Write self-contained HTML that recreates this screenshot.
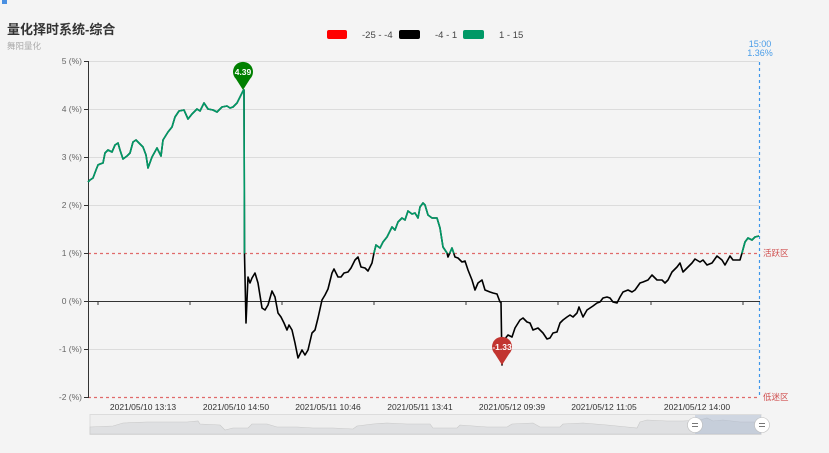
<!DOCTYPE html>
<html><head><meta charset="utf-8"><style>
html,body{margin:0;padding:0;background:#f4f4f4;}
svg{display:block;font-family:"Liberation Sans","Noto Sans CJK SC",sans-serif;}
</style></head><body>
<svg width="829" height="453" viewBox="0 0 829 453" xmlns="http://www.w3.org/2000/svg">
<rect x="0" y="0" width="829" height="453" fill="#f4f4f4"/>
<rect x="2" y="0" width="5" height="4" fill="#4a90e2"/>
<text x="7" y="34" font-size="13" font-weight="bold" fill="#333">量化择时系统-综合</text>
<text x="7" y="49" font-size="8.5" fill="#aaa">舞阳量化</text>
<!-- legend -->
<rect x="327" y="30" width="20" height="9" rx="2" fill="#ff0000"/>
<text x="362" y="38" font-size="9.5" fill="#444">-25 - -4</text>
<rect x="399" y="30" width="21" height="9" rx="2" fill="#000"/>
<text x="435" y="38" font-size="9.5" fill="#444">-4 - 1</text>
<rect x="463" y="30" width="21" height="9" rx="2" fill="#009966"/>
<text x="499" y="38" font-size="9.5" fill="#444">1 - 15</text>
<!-- top right label -->
<text x="760" y="47" font-size="9" fill="#4a9de8" text-anchor="middle">15:00</text>
<text x="760" y="56" font-size="9" fill="#4a9de8" text-anchor="middle">1.36%</text>
<!-- grid -->
<g stroke="#dcdcdc" stroke-width="1">
<line x1="88" y1="61.5" x2="759" y2="61.5"/>
<line x1="88" y1="109.5" x2="759" y2="109.5"/>
<line x1="88" y1="157.5" x2="759" y2="157.5"/>
<line x1="88" y1="205.5" x2="759" y2="205.5"/>
<line x1="88" y1="349.5" x2="759" y2="349.5"/>
</g>
<line x1="88" y1="253.5" x2="759" y2="253.5" stroke="#e06a6a" stroke-width="1.2" stroke-dasharray="3,3"/>
<line x1="88" y1="397.5" x2="759" y2="397.5" stroke="#e06a6a" stroke-width="1.2" stroke-dasharray="3,3"/>
<text x="763" y="256" font-size="8.5" fill="#d05050">活跃区</text>
<text x="763" y="400" font-size="8.5" fill="#d05050">低迷区</text>
<!-- y axis -->
<line x1="88.5" y1="61" x2="88.5" y2="398" stroke="#333"/>
<g stroke="#333">
<line x1="84" y1="61.5" x2="88" y2="61.5"/>
<line x1="84" y1="109.5" x2="88" y2="109.5"/>
<line x1="84" y1="157.5" x2="88" y2="157.5"/>
<line x1="84" y1="205.5" x2="88" y2="205.5"/>
<line x1="84" y1="253.5" x2="88" y2="253.5"/>
<line x1="84" y1="301.5" x2="88" y2="301.5"/>
<line x1="84" y1="349.5" x2="88" y2="349.5"/>
<line x1="84" y1="397.5" x2="88" y2="397.5"/>
</g>
<g font-size="8.5" fill="#666" text-anchor="end">
<text x="82" y="64">5 (%)</text>
<text x="82" y="112">4 (%)</text>
<text x="82" y="160">3 (%)</text>
<text x="82" y="208">2 (%)</text>
<text x="82" y="256">1 (%)</text>
<text x="82" y="304">0 (%)</text>
<text x="82" y="352">-1 (%)</text>
<text x="82" y="400">-2 (%)</text>
</g>
<!-- x axis at zero -->
<line x1="88" y1="301.5" x2="760" y2="301.5" stroke="#333"/>
<g stroke="#333">
<line x1="98" y1="301" x2="98" y2="305"/>
<line x1="190" y1="301" x2="190" y2="305"/>
<line x1="282" y1="301" x2="282" y2="305"/>
<line x1="374" y1="301" x2="374" y2="305"/>
<line x1="466" y1="301" x2="466" y2="305"/>
<line x1="558" y1="301" x2="558" y2="305"/>
<line x1="651" y1="301" x2="651" y2="305"/>
<line x1="743" y1="301" x2="743" y2="305"/>
</g>
<g font-size="8.5" fill="#333" text-anchor="middle">
<text x="143" y="410">2021/05/10 13:13</text>
<text x="236" y="410">2021/05/10 14:50</text>
<text x="328" y="410">2021/05/11 10:46</text>
<text x="420" y="410">2021/05/11 13:41</text>
<text x="512" y="410">2021/05/12 09:39</text>
<text x="604" y="410">2021/05/12 11:05</text>
<text x="697" y="410">2021/05/12 14:00</text>
</g>
<!-- dashed end line -->
<line x1="759.5" y1="62" x2="759.5" y2="398" stroke="#3d96ea" stroke-width="1.2" stroke-dasharray="3,3"/>
<defs>
<clipPath id="gc"><rect x="0" y="0" width="829" height="253.5"/></clipPath>
</defs>
<polyline fill="none" stroke="#000" stroke-width="1.6" stroke-linejoin="round" points="88,182 90,180 93,178 96,170 98,165 100,164 103,163 105,153 108,150 112,152 115,145 118,143 120,150 123,159 127,156 130,153 133,142 136,140 139,143 143,147 146,155 148,168 152,157 157,148 161,156 163,140 168,132 172,127 175,117 179,111 184,110 188,119 192,114 197,109 200,111 204,103 208,109 213,110 217,112 222,107 227,106 230,108 233,107 237,103 240,97 243,91 244,90 244.5,254 246,323 248,277 250,283 252,278 255,273 258,283 262,308 265,310 268,305 272,291 275,297 278,313 281,317 284,323 287,330 289,325 292,330 295,343 298,358 302,350 305,355 308,350 312,333 315,330 318,318 322,300 325,295 328,289 332,273 334,269 338,277 341,277 344,273 348,272 351,268 355,260 358,257 361,267 365,268 368,271 372,263 374,253 376,245 380,248 383,242 387,237 392,227 395,230 398,222 402,218 405,220 408,211 412,214 415,213 418,218 420,207 423,203 425,205 428,215 432,218 437,218 440,228 443,247 447,253 448,257 452,248 455,257 458,258 462,262 465,261 468,270 472,280 475,290 478,283 482,280 485,290 490,292 493,293 497,294 500,302 501,302 502,365 504,340 508,335 512,337 515,328 520,320 523,318 527,322 530,323 533,330 538,328 543,333 547,339 550,338 553,333 557,332 560,323 563,320 567,317 570,315 573,317 577,313 579,307 583,317 587,310 590,308 593,306 597,303 600,302 603,298 607,297 610,298 613,302 617,303 620,297 623,292 628,290 632,292 635,290 640,283 643,282 648,280 652,275 657,280 662,280 665,283 668,280 672,272 677,267 680,263 683,272 688,267 692,263 695,259 700,262 703,260 707,265 712,263 717,256 722,260 725,265 730,256 733,260 740,260 742,253 745,242 748,238 752,240 755,237 759,236"/>
<g clip-path="url(#gc)">
<polyline fill="none" stroke="#009966" stroke-width="1.6" stroke-linejoin="round" points="88,182 90,180 93,178 96,170 98,165 100,164 103,163 105,153 108,150 112,152 115,145 118,143 120,150 123,159 127,156 130,153 133,142 136,140 139,143 143,147 146,155 148,168 152,157 157,148 161,156 163,140 168,132 172,127 175,117 179,111 184,110 188,119 192,114 197,109 200,111 204,103 208,109 213,110 217,112 222,107 227,106 230,108 233,107 237,103 240,97 243,91 244,90 244.5,254 246,323 248,277 250,283 252,278 255,273 258,283 262,308 265,310 268,305 272,291 275,297 278,313 281,317 284,323 287,330 289,325 292,330 295,343 298,358 302,350 305,355 308,350 312,333 315,330 318,318 322,300 325,295 328,289 332,273 334,269 338,277 341,277 344,273 348,272 351,268 355,260 358,257 361,267 365,268 368,271 372,263 374,253 376,245 380,248 383,242 387,237 392,227 395,230 398,222 402,218 405,220 408,211 412,214 415,213 418,218 420,207 423,203 425,205 428,215 432,218 437,218 440,228 443,247 447,253 448,257 452,248 455,257 458,258 462,262 465,261 468,270 472,280 475,290 478,283 482,280 485,290 490,292 493,293 497,294 500,302 501,302 502,365 504,340 508,335 512,337 515,328 520,320 523,318 527,322 530,323 533,330 538,328 543,333 547,339 550,338 553,333 557,332 560,323 563,320 567,317 570,315 573,317 577,313 579,307 583,317 587,310 590,308 593,306 597,303 600,302 603,298 607,297 610,298 613,302 617,303 620,297 623,292 628,290 632,292 635,290 640,283 643,282 648,280 652,275 657,280 662,280 665,283 668,280 672,272 677,267 680,263 683,272 688,267 692,263 695,259 700,262 703,260 707,265 712,263 717,256 722,260 725,265 730,256 733,260 740,260 742,253 745,242 748,238 752,240 755,237 759,236"/>
</g>
<!-- markers -->
<path d="M243,90 L236,79 A10,10 0 1 1 250,79 Z" fill="#008000"/>
<text x="243" y="75" font-size="8.5" font-weight="bold" fill="#fff" text-anchor="middle">4.39</text>
<path d="M502,365 L495,354 A10,10 0 1 1 509,354 Z" fill="#c23531"/>
<text x="502" y="350" font-size="8.5" font-weight="bold" fill="#fff" text-anchor="middle">-1.33</text>
<!-- data zoom slider -->
<rect x="90" y="414.5" width="671" height="20" fill="#efefef" stroke="#dcdcdc"/>
<polygon fill="#dfe0e2" stroke="#c8c8c8" stroke-width="0.6" points="90,434 90,427 113,426 123,423 147,422 167,422 187,422 198,421 200,424 220,425 225,430 233,428 248,428 252,424 267,424 277,427 297,427 313,428 333,428 353,429 357,426 373,424 387,423 407,424 430,424 433,428 440,428 457,428 460,425 487,427 507,427 512,424 533,423 540,427 560,427 563,424 583,423 607,425 627,427 637,428 640,422 647,420 667,421 683,421 700,420 707,418 713,421 723,420 740,422 757,422 761,421 761,434"/>
<rect x="695" y="415" width="66" height="19" fill="#a8b8d0" opacity="0.45"/>
<g>
<circle cx="695" cy="425" r="7.5" fill="#fff" stroke="#bbb" stroke-width="0.6"/>
<line x1="692" y1="423.5" x2="698" y2="423.5" stroke="#777"/>
<line x1="692" y1="426.5" x2="698" y2="426.5" stroke="#777"/>
<circle cx="762" cy="425" r="7.5" fill="#fff" stroke="#bbb" stroke-width="0.6"/>
<line x1="759" y1="423.5" x2="765" y2="423.5" stroke="#777"/>
<line x1="759" y1="426.5" x2="765" y2="426.5" stroke="#777"/>
</g>
</svg>
</body></html>
